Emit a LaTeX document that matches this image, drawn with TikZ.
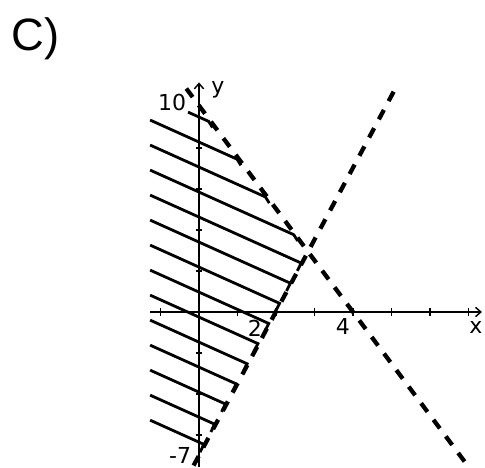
\documentclass[tikz,border=0pt]{standalone}
\usepackage{fontspec}
\setmainfont{DejaVu Sans}
\newfontfamily\capfont{Liberation Sans}
\usepackage{tikz}
\usetikzlibrary{arrows.meta}

\begin{document}
\begin{tikzpicture}[x=28.875pt,y=15.375pt,
        axisline/.style={line width=1.3pt,-{Straight Barb[length=4pt,width=7pt,line width=1.1pt]}},
        tickmark/.style={line width=0.8pt},
        bound/.style={line width=3.2pt,dash pattern=on 8pt off 7.5pt},
        hatchline/.style={line width=2.1pt,line join=miter},
        numlabel/.style={font=\fontsize{16.5}{16.5}\selectfont,inner sep=0pt}
      ]
        \useasboundingbox (-5.169,-7.61) rectangle (7.429,15.22);
        % axes
        \coordinate (xl) at (-1.27,0);   \coordinate (xr) at (7.35,0);
        \coordinate (yb) at (0,-7.56);   \coordinate (yt) at (0,11.2);
        \draw[axisline] (xl) -- (xr);
        \draw[axisline] (yb) -- (yt);
        \foreach \i in {-1,1,2,...,7} \draw[tickmark] (\i,-0.18) -- (\i,0.18);
        \foreach \j in {-6,-4,...,8} \draw[tickmark] (-0.09,\j) -- (0.09,\j);
        % boundary lines
        \coordinate (pa) at (-0.33,10.9); \coordinate (pb) at (7.0,-7.55);
        \coordinate (qa) at (-0.14,-7.49); \coordinate (qb) at (5.1,10.9);
        \draw[bound] (pa) -- (pb);
        \draw[bound] (qa) -- (qb);
        % hatching
        \foreach \k in {0,...,13}{
          \pgfmathsetmacro{\Y}{9.51-1.22*\k}
          \pgfmathsetmacro{\xs}{max(-1.27,(\Y-9.75)/0.845)}
          \ifnum\k<4
            \pgfmathsetmacro{\xe}{(9.925-\Y)/1.655}
            \draw[hatchline] (\xs,{\Y-0.845*\xs}) -- (\xe,{\Y-0.845*\xe}) -- ++(0.1,-0.3);
          \else
            \pgfmathsetmacro{\xe}{(\Y+6.9)/4.345}
            \draw[hatchline] (\xs,{\Y-0.845*\xs}) -- (\xe,{\Y-0.845*\xe}) -- ++(-0.1,-0.38);
          \fi
        }
        % labels
        \node[numlabel] (ten)  at (-0.70,10.24) {10};
        \node[numlabel] (ylab) at (0.49,10.83) {y};
        \node[numlabel] (two)  at (1.45,-0.78) {2};
        \node[numlabel] (four) at (3.74,-0.73) {4};
        \node[numlabel] (xlab) at (7.19,-0.78) {x};
        \node[numlabel] (mseven) at (-0.49,-6.98) {-7};
        \node[font=\capfont\fontsize{34}{34}\selectfont,inner sep=0pt] (part) at (-4.24,13.35) {C)};
      \end{tikzpicture}
\end{document}
